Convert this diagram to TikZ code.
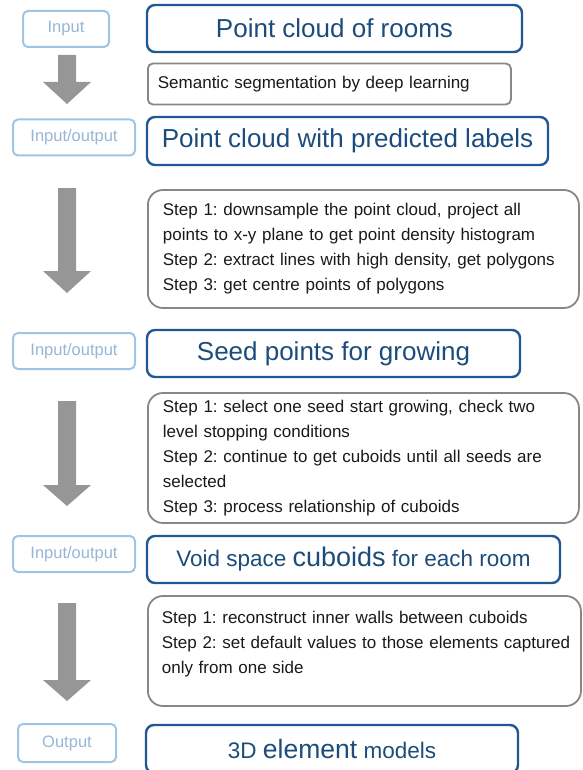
\documentclass[tikz,border=0pt]{standalone}
\usepackage{fontspec}
\setmainfont{Liberation Sans}
\usepackage{tikz}
\definecolor{titleblue}{RGB}{31,88,146}
\definecolor{titletext}{RGB}{28,76,124}
\definecolor{ioblue}{RGB}{160,197,228}
\definecolor{iotext}{RGB}{150,182,214}
\definecolor{arrowgray}{RGB}{150,150,150}
\definecolor{boxgray}{RGB}{135,135,135}
\frenchspacing
\hyphenpenalty=10000
\begin{document}
\begin{tikzpicture}[x=1pt,y=-1pt,
  io/.style={draw=ioblue,line width=2pt,rounded corners=5pt,text=iotext,font=\fontsize{16.5}{18}\selectfont,inner sep=0pt,minimum height=36pt},
  title/.style={draw=titleblue,line width=2.4pt,rounded corners=8pt,text=titletext,font=\fontsize{26}{30}\selectfont,inner sep=0pt,minimum height=47pt},
  subtitle/.style={title,font=\fontsize{22.5}{30}\selectfont},
  stepbox/.style={draw=boxgray,line width=1.8pt,rounded corners=15pt,anchor=west,align=left,inner xsep=15pt,text=black!90,font=\fontsize{17}{25}\selectfont}]
      \useasboundingbox (0,0) rectangle (582,770);

     \node [io,minimum width=86pt] (in) at (66,29) {Input};
     \node [io,minimum width=122pt] (io1) at (74,137.5) {Input/output};
     \node [io,minimum width=122pt] (io2) at (74,351) {Input/output};
     \node [io,minimum width=122pt] (io3) at (74,554) {Input/output};
     \node [io,minimum width=98pt,minimum height=38pt] (out) at (67,743) {Output};

     \node [title,minimum width=375pt] (rooms) at (334.5,28.5) {Point cloud of rooms};
     \node [title,minimum width=401pt,minimum height=48pt] (labels) at (347.5,141) {Point cloud with predicted labels};
     \node [title,minimum width=373pt] (seeds) at (333.5,353.5) {Seed points for growing};
     \node [subtitle,minimum width=413pt] (cuboids) at (353.5,559.5) {Void space {\fontsize{27}{30}\selectfont cuboids} for each room};
     \node [subtitle,minimum width=372pt,minimum height=48pt] (models) at (332,749) {3D {\fontsize{26.5}{30}\selectfont element} models};

     \node [stepbox,rounded corners=5pt,inner xsep=10pt,text width=343pt,minimum height=41pt] (seg) at (147,84) {Semantic segmentation by deep learning};
     \node [stepbox,text width=401pt,minimum height=118pt] (stepa) at (147,249) {Step 1: downsample the point cloud, project all\\
       points to x-y plane to get point density histogram\\
       Step 2: extract lines with high density, get polygons\\
       Step 3: get centre points of polygons};
     \node [stepbox,text width=401pt,minimum height=130pt] (stepb) at (147,458) {Step 1: select one seed start growing, check two\\
       level stopping conditions\\
       Step 2: continue to get cuboids until all seeds are\\
       selected\\
       Step 3: process relationship of cuboids};
     \node [stepbox,inner xsep=14pt,text width=405pt,minimum height=110pt] (stepc) at (147,651) {Step 1: reconstruct inner walls between cuboids\\
       \mbox{Step 2: set default values to those elements captured}\\
       only from one side\\[-15pt]\strut};

     \foreach \ya/\yb/\yc in {55/82/104,188/271/293,401/485/506,603/680/701}
       \fill[arrowgray] (58,\ya) -- (76,\ya) -- (76,\yb) -- (91,\yb) -- (67,\yc) -- (43,\yb) -- (58,\yb) -- cycle;

  \end{tikzpicture}
\end{document}
